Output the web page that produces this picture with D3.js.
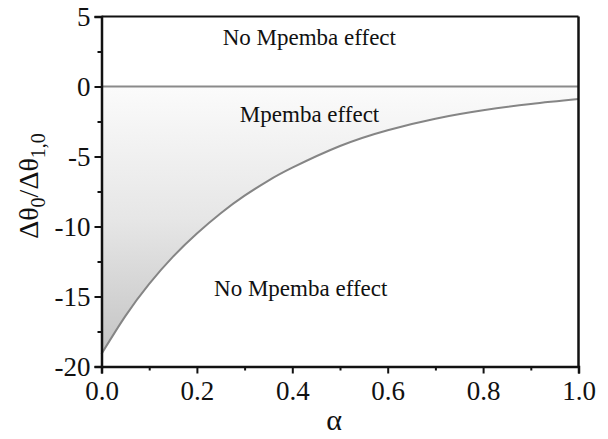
<!DOCTYPE html>
<html>
<head>
<meta charset="utf-8">
<script src="https://cdn.jsdelivr.net/npm/d3@7"></script>
</head>
<body style="margin:0">
<svg id="chart" width="608" height="439" font-family="Liberation Serif"></svg>
<script>
// Boundary of the Mpemba region: Δθ0/Δθ1,0 as a function of α
const alphaValues = [0, 0.05, 0.1, 0.15, 0.2, 0.25, 0.3, 0.35, 0.4, 0.5, 0.6, 0.7, 0.8, 0.9, 1.0];
const boundaryValues = [-19.1, -16.4, -14.1, -12.15, -10.5, -9.05, -7.8, -6.72, -5.8, -4.25, -3.12, -2.3, -1.7, -1.25, -0.9];

const xTicks = [0, 0.2, 0.4, 0.6, 0.8, 1.0];
const xMinorTicks = [0.1, 0.3, 0.5, 0.7, 0.9];
const yTicks = [5, 0, -5, -10, -15, -20];
const yMinorTicks = [2.5, -2.5, -7.5, -12.5, -17.5];

const regionLabels = [
  { text: "No Mpemba effect", a: 0.254, v: 2.95 },
  { text: "Mpemba effect", a: 0.29, v: -2.55 },
  { text: "No Mpemba effect", a: 0.236, v: -14.95 }
];

const svg = d3.select("#chart");
const plotL = 101.5, plotR = 578.5, plotT = 16.5, plotB = 366.5;

const x = d3.scaleLinear().domain([0, 1]).range([plotL, plotR]);
const y = d3.scaleLinear().domain([-20, 5]).range([plotB, plotT]);

const pts = alphaValues.map((a, i) => [a, boundaryValues[i]]);

// vertical gray gradient filling the Mpemba region
const defs = svg.append("defs");
const grad = defs.append("linearGradient")
  .attr("id", "fillGrad")
  .attr("gradientUnits", "userSpaceOnUse")
  .attr("x1", 0).attr("x2", 0)
  .attr("y1", y(0)).attr("y2", y(-19.1));
grad.append("stop").attr("offset", 0).attr("stop-color", "#fbfbfb");
grad.append("stop").attr("offset", 0.5).attr("stop-color", "#e6e6e6");
grad.append("stop").attr("offset", 1).attr("stop-color", "#c4c4c4");

const area = d3.area()
  .x(d => x(d[0]))
  .y0(y(0))
  .y1(d => y(d[1]))
  .curve(d3.curveNatural);

svg.append("path")
  .datum(pts)
  .attr("d", area)
  .attr("fill", "url(#fillGrad)");

// zero line
svg.append("line")
  .attr("x1", x(0)).attr("x2", x(1))
  .attr("y1", y(0)).attr("y2", y(0))
  .attr("stroke", "#8a8a8a").attr("stroke-width", 2);

// boundary curve
const line = d3.line()
  .x(d => x(d[0]))
  .y(d => y(d[1]))
  .curve(d3.curveNatural);

svg.append("path")
  .datum(pts)
  .attr("d", line)
  .attr("fill", "none")
  .attr("stroke", "#858585")
  .attr("stroke-width", 2);

// frame: top and right edges
svg.append("line")
  .attr("x1", plotL).attr("x2", plotR).attr("y1", plotT).attr("y2", plotT)
  .attr("stroke", "#111").attr("stroke-width", 2);
svg.append("line")
  .attr("x1", plotR).attr("x2", plotR).attr("y1", plotT).attr("y2", plotB)
  .attr("stroke", "#111").attr("stroke-width", 2.5);

// bottom axis
svg.append("g").attr("transform", `translate(0,${plotB})`)
  .call(d3.axisBottom(x).tickValues(xTicks).tickFormat(d3.format(".1f")).tickSize(7).tickPadding(7));
svg.append("g").attr("transform", `translate(0,${plotB})`)
  .call(d3.axisBottom(x).tickValues(xMinorTicks).tickFormat("").tickSize(4))
  .call(g => g.select(".domain").remove());

// left axis
const yAxis = svg.append("g").attr("transform", `translate(${plotL},0)`)
  .call(d3.axisLeft(y).tickValues(yTicks).tickFormat(d => d).tickSize(7).tickPadding(4));
svg.append("g").attr("transform", `translate(${plotL},0)`)
  .call(d3.axisLeft(y).tickValues(yMinorTicks).tickFormat("").tickSize(4))
  .call(g => g.select(".domain").remove());

svg.selectAll("g").attr("font-family", "Liberation Serif");
svg.selectAll(".domain").attr("stroke", "#111").attr("stroke-width", 2.5);
svg.selectAll(".tick line").attr("stroke", "#111").attr("stroke-width", 2);
svg.selectAll(".tick text").attr("font-size", 27).attr("fill", "#111");
yAxis.selectAll(".tick text").text(d => String(d));

// region labels
svg.selectAll("text.region")
  .data(regionLabels)
  .join("text")
  .attr("class", "region")
  .attr("x", d => x(d.a))
  .attr("y", d => y(d.v))
  .attr("font-size", 23)
  .attr("fill", "#111")
  .text(d => d.text);

// axis titles
svg.append("text")
  .attr("x", 334).attr("y", 430)
  .attr("text-anchor", "middle")
  .attr("font-size", 30)
  .attr("fill", "#111")
  .text("α");

const yt = svg.append("text")
  .attr("transform", "translate(38,186) rotate(-90)")
  .attr("text-anchor", "middle")
  .attr("font-size", 28)
  .attr("fill", "#111");
yt.append("tspan").text("Δθ");
yt.append("tspan").attr("dy", 7).attr("font-size", 20).text("0");
yt.append("tspan").attr("dy", -7).text("/Δθ");
yt.append("tspan").attr("dy", 7).attr("font-size", 20).text("1,0");
</script>
</body>
</html>
